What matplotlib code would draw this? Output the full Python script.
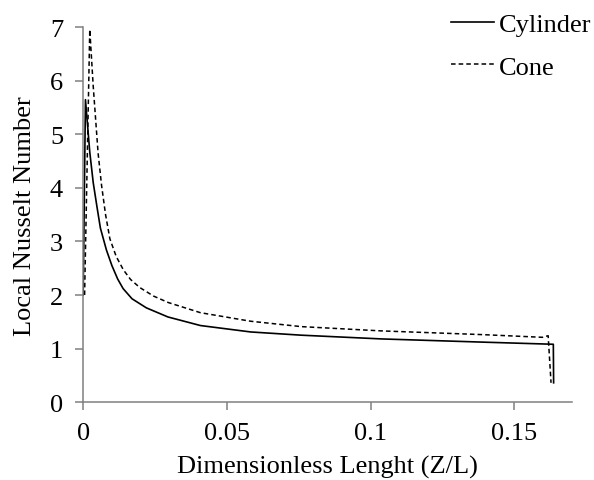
import numpy             as np
import matplotlib
matplotlib.use('Agg')
import matplotlib.pyplot as plt

### DATA ###
# Dimensionless length (Z/L) and local Nusselt number
z_cylinder  = [0.0, 0.0008, 0.0023, 0.0035, 0.0048, 0.006, 0.0081, 0.0100, 0.0120, 0.0139,
               0.017, 0.022, 0.0295, 0.0408, 0.0583, 0.0758, 0.1037, 0.139, 0.1636, 0.1637]
nu_cylinder = [2.0, 5.65, 4.67, 4.1, 3.65, 3.25, 2.84, 2.55, 2.30, 2.12,
               1.93, 1.76, 1.59, 1.43, 1.31, 1.25, 1.18, 1.12, 1.08, 0.36]

z_cone  = [0.0005, 0.0023, 0.0035, 0.0052, 0.0064, 0.0078, 0.0093, 0.0115, 0.014, 0.0165,
           0.0197, 0.0245, 0.0296, 0.0408, 0.0583, 0.0758, 0.1037, 0.139, 0.1598, 0.1618, 0.1628]
nu_cone = [2.0, 6.96, 5.9, 4.65, 4.05, 3.5, 3.05, 2.72, 2.47, 2.29,
           2.14, 1.98, 1.86, 1.67, 1.51, 1.41, 1.33, 1.26, 1.21, 1.24, 0.36]

x_ticks = [0, 0.05, 0.1, 0.15]
x_tick_labels = ['0', '0.05', '0.1', '0.15']
y_ticks = [0, 1, 2, 3, 4, 5, 6, 7]

### PLOT ###
plt.rcParams['font.family'] = ['Liberation Serif', 'DejaVu Serif']
plt.rcParams['font.size'] = 19

fig = plt.figure(figsize=(5.94, 4.81), dpi=100)
ax = fig.add_axes([0.140, 0.162, 0.8225, 0.779])

ax.plot(z_cylinder, nu_cylinder, color='black', linewidth=1.2, label='Cylinder')
ax.plot(z_cone, nu_cone, color='black', linewidth=1.1, linestyle=(0, (3, 2)), label='Cone')

ax.set_xlim(0, 0.17)
ax.set_ylim(0, 7)
ax.set_xticks(x_ticks)
ax.set_xticklabels(x_tick_labels)
ax.set_yticks(y_ticks)

for side in ['top', 'right']:
	ax.spines[side].set_visible(False)
for side in ['left', 'bottom']:
	ax.spines[side].set_color('#808080')
	ax.spines[side].set_linewidth(1.1)
ax.tick_params(direction='out', length=5.5, width=1.1, color='#808080', pad=9)

ax.set_xlabel('Dimensionless Lenght (Z/L)', labelpad=8)
ax.set_ylabel('Local Nusselt Number', labelpad=10)

ax.legend(loc='upper right', bbox_to_anchor=(1.0, 0.977), bbox_transform=fig.transFigure,
          frameon=False, handlelength=1.6, handletextpad=0.2, labelspacing=0.72,
          borderaxespad=0.0, borderpad=0.1)

fig.savefig('out.png', dpi=100)
